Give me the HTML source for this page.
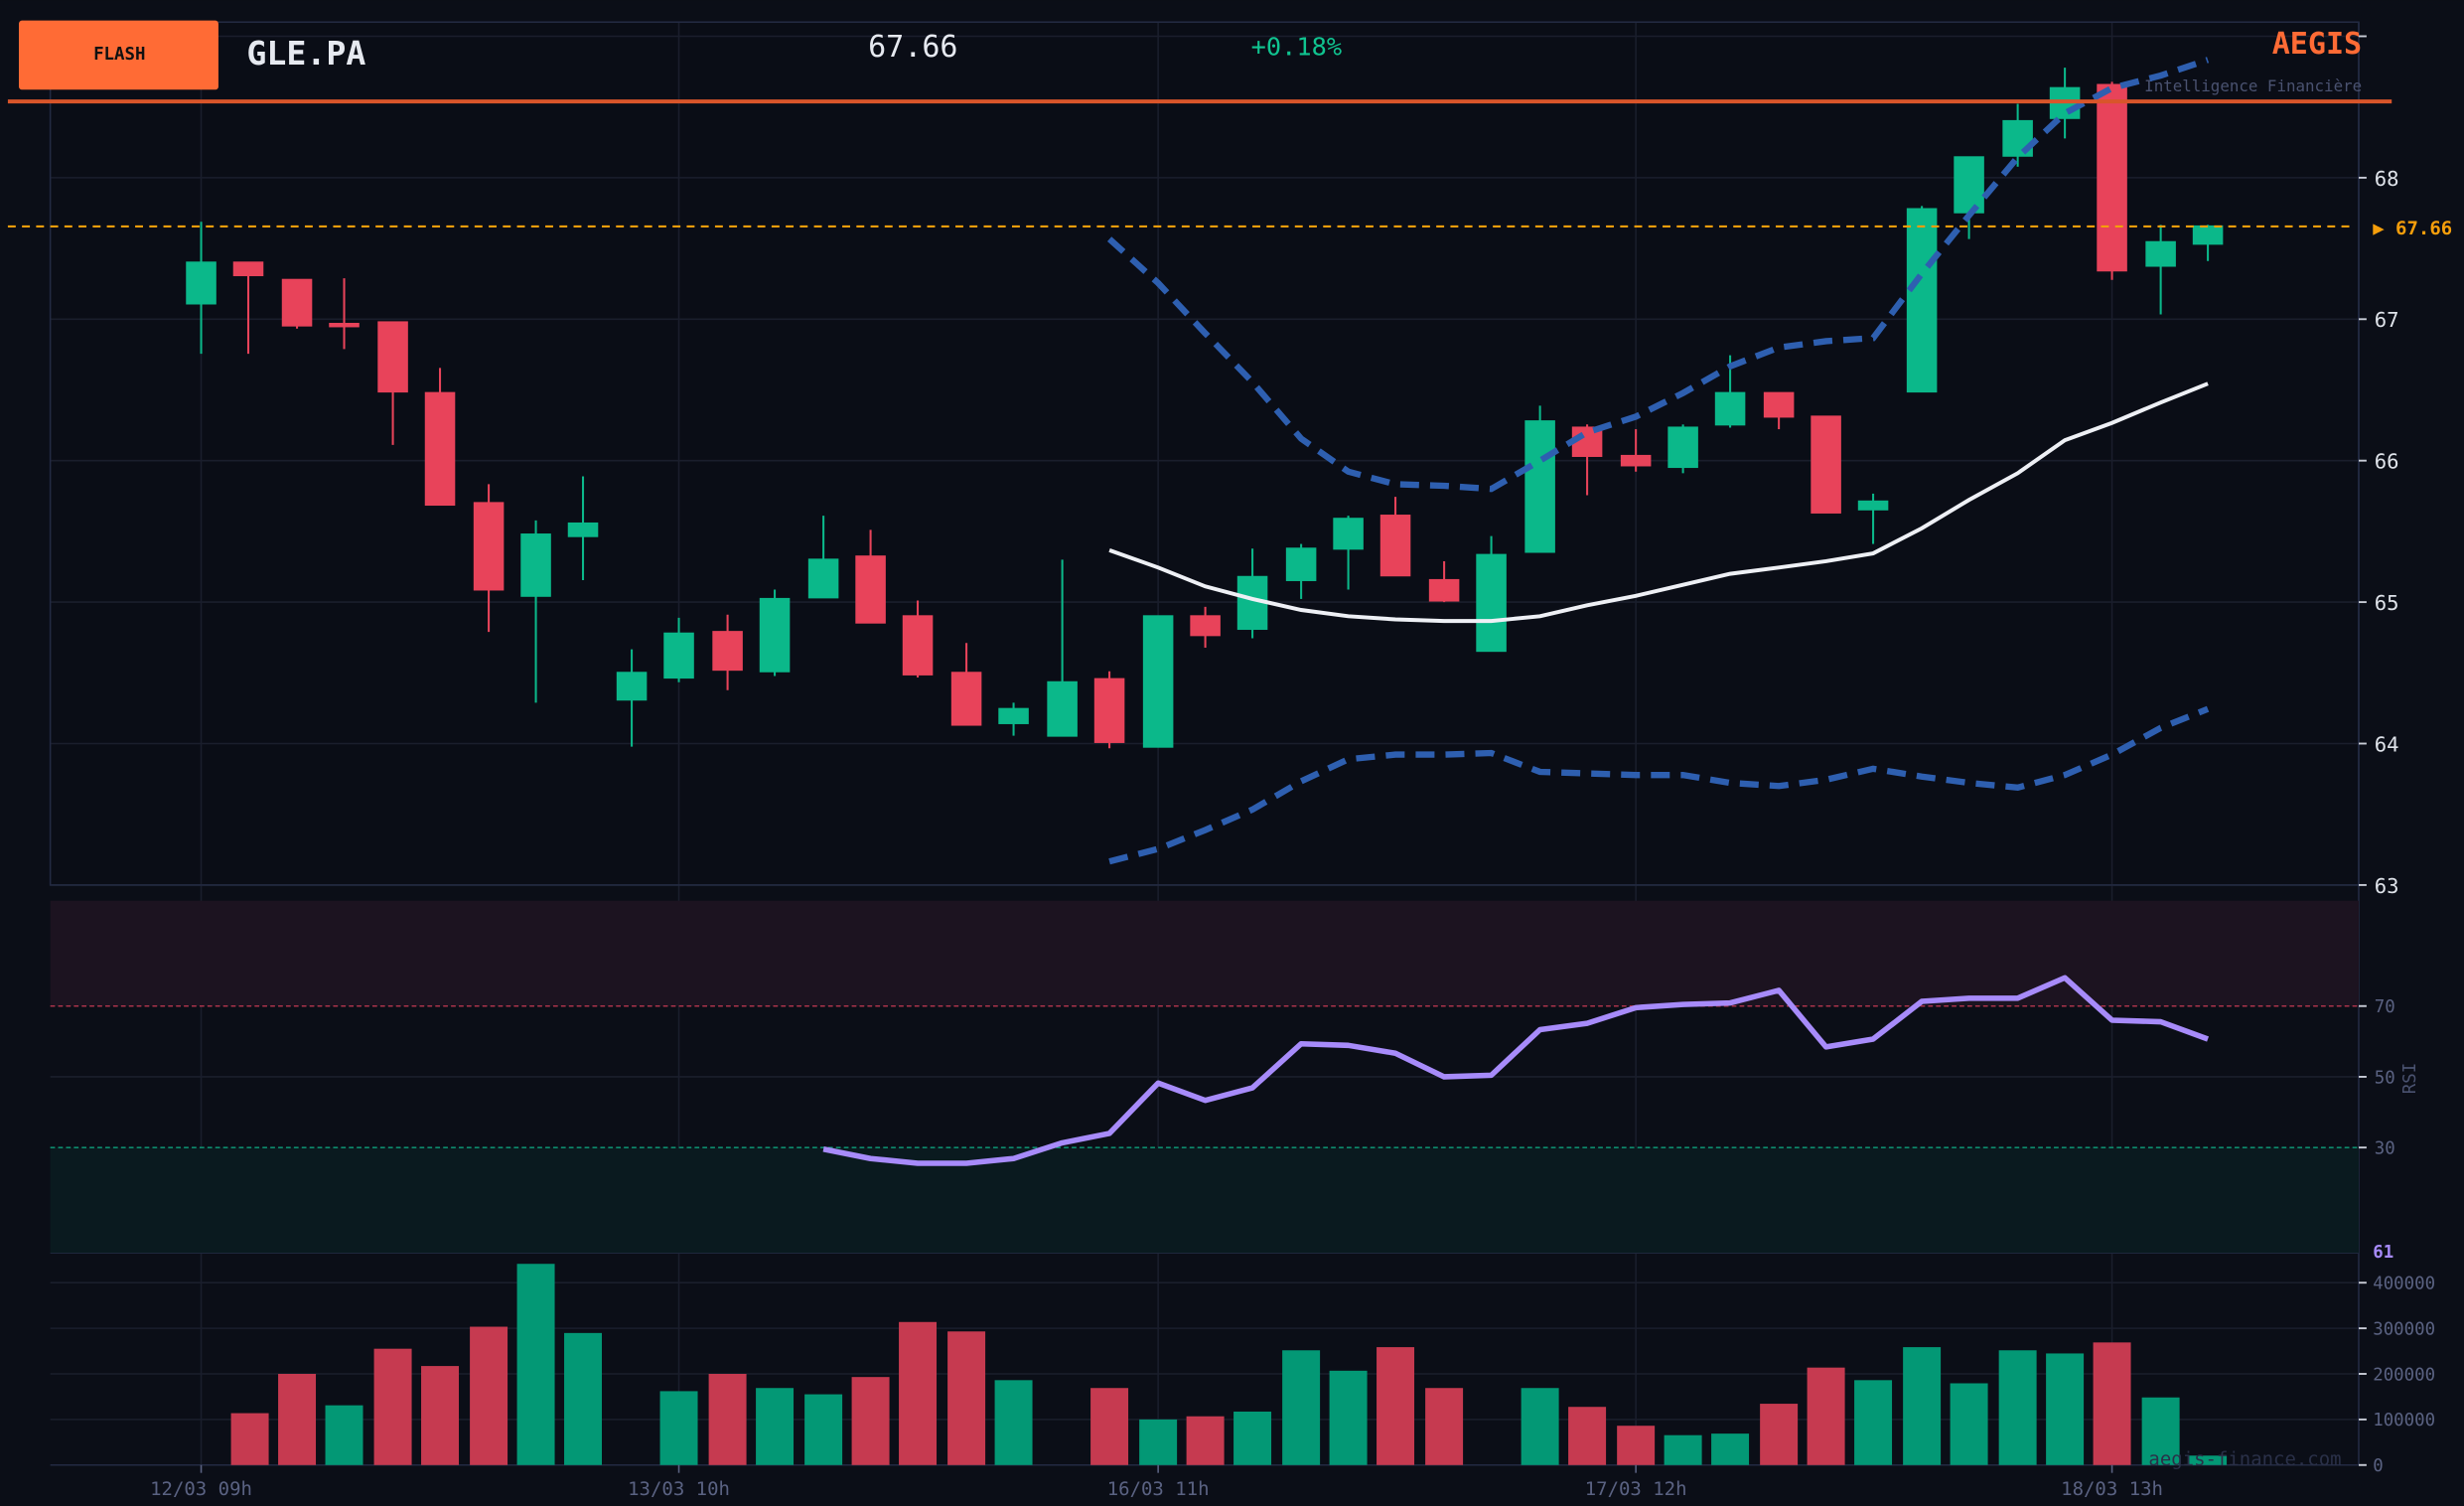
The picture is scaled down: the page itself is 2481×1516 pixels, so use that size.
<!DOCTYPE html>
<html><head><meta charset="utf-8"><style>
html,body{margin:0;padding:0;background:#0b0e17;}
svg{display:block;}
text{font-family:"DejaVu Sans Mono","Liberation Mono",monospace;}
</style></head><body>
<svg width="2481" height="1516" viewBox="0 0 1568 958" xmlns="http://www.w3.org/2000/svg">
<rect width="1568" height="958" fill="#0b0e17"/>
<rect x="32" y="14" width="1469" height="549" fill="#0a0d16"/>
<g stroke="#1a1e2c" stroke-width="1">
<line x1="32" y1="23" x2="1501" y2="23"/>
<line x1="32" y1="113" x2="1501" y2="113"/><line x1="32" y1="203" x2="1501" y2="203"/>
<line x1="32" y1="293" x2="1501" y2="293"/><line x1="32" y1="383" x2="1501" y2="383"/>
<line x1="32" y1="473" x2="1501" y2="473"/><line x1="32" y1="563" x2="1501" y2="563"/>
<line x1="128" y1="14" x2="128" y2="932"/><line x1="432" y1="14" x2="432" y2="932"/>
<line x1="737" y1="14" x2="737" y2="932"/><line x1="1041" y1="14" x2="1041" y2="932"/>
<line x1="1344" y1="14" x2="1344" y2="932"/>
<line x1="32" y1="685" x2="1501" y2="685"/>
<line x1="32" y1="816" x2="1501" y2="816"/><line x1="32" y1="845" x2="1501" y2="845"/>
<line x1="32" y1="874" x2="1501" y2="874"/><line x1="32" y1="903" x2="1501" y2="903"/>
</g>
<g stroke="#232a42" fill="none"><rect x="32" y="14" width="1469" height="549"/>
<line x1="1501" y1="14" x2="1501" y2="932"/><line x1="32" y1="932" x2="1501" y2="932"/><line x1="32" y1="797" x2="1501" y2="797"/></g>
<rect x="32" y="573" width="1469" height="67" fill="#1c1320"/>
<rect x="32" y="730" width="1469" height="67" fill="#0a1a1f"/>
<line x1="32" y1="640" x2="1501" y2="640" stroke="#a8334a" stroke-dasharray="3,2"/>
<line x1="32" y1="730" x2="1501" y2="730" stroke="#0e8a6c" stroke-dasharray="3,2"/>
<rect x="12" y="13" width="127" height="44" rx="2" fill="#ff6b35"/>
<text x="76" y="38" font-size="11" font-weight="bold" fill="#111" text-anchor="middle">FLASH</text>
<text x="157" y="41" font-size="21" font-weight="bold" fill="#e6e9f0">GLE.PA</text>
<text x="581" y="36" font-size="19" fill="#e6e9f0" text-anchor="middle">67.66</text>
<text x="825" y="35" font-size="16" fill="#10c490" text-anchor="middle">+0.18%</text>
<text x="1503" y="34" font-size="19" font-weight="bold" fill="#ff6b35" text-anchor="end">AEGIS</text>
<text x="1503" y="58" font-size="10" fill="#4a5270" text-anchor="end">Intelligence Financière</text>
<g stroke-width="1.3">
<g stroke="#0bb88a" fill="#0bb88a">
<line x1="128" y1="141" x2="128" y2="225"/><rect x="119" y="167" width="18" height="26"/>
<line x1="341" y1="331" x2="341" y2="447"/><rect x="332" y="340" width="18" height="39"/>
<line x1="371" y1="303" x2="371" y2="369"/><rect x="362" y="333" width="18" height="8"/>
<line x1="402" y1="413" x2="402" y2="475"/><rect x="393" y="428" width="18" height="17"/>
<line x1="432" y1="393" x2="432" y2="434"/><rect x="423" y="403" width="18" height="28"/>
<line x1="493" y1="375" x2="493" y2="430"/><rect x="484" y="381" width="18" height="46"/>
<line x1="524" y1="328" x2="524" y2="380"/><rect x="515" y="356" width="18" height="24"/>
<line x1="645" y1="447" x2="645" y2="468"/><rect x="636" y="451" width="18" height="9"/>
<line x1="676" y1="356" x2="676" y2="468"/><rect x="667" y="434" width="18" height="34"/>
<line x1="737" y1="392" x2="737" y2="475"/><rect x="728" y="392" width="18" height="83"/>
<line x1="797" y1="349" x2="797" y2="406"/><rect x="788" y="367" width="18" height="33"/>
<line x1="828" y1="346" x2="828" y2="381"/><rect x="819" y="349" width="18" height="20"/>
<line x1="858" y1="328" x2="858" y2="375"/><rect x="849" y="330" width="18" height="19"/>
<line x1="949" y1="341" x2="949" y2="414"/><rect x="940" y="353" width="18" height="61"/>
<line x1="980" y1="258" x2="980" y2="351"/><rect x="971" y="268" width="18" height="83"/>
<line x1="1071" y1="270" x2="1071" y2="301"/><rect x="1062" y="272" width="18" height="25"/>
<line x1="1101" y1="226" x2="1101" y2="272"/><rect x="1092" y="250" width="18" height="20"/>
<line x1="1192" y1="314" x2="1192" y2="346"/><rect x="1183" y="319" width="18" height="5"/>
<line x1="1223" y1="131" x2="1223" y2="249"/><rect x="1214" y="133" width="18" height="116"/>
<line x1="1253" y1="100" x2="1253" y2="152"/><rect x="1244" y="100" width="18" height="35"/>
<line x1="1284" y1="66" x2="1284" y2="106"/><rect x="1275" y="77" width="18" height="22"/>
<line x1="1314" y1="43" x2="1314" y2="88"/><rect x="1305" y="56" width="18" height="19"/>
<line x1="1375" y1="143" x2="1375" y2="200"/><rect x="1366" y="154" width="18" height="15"/>
<line x1="1405" y1="143" x2="1405" y2="166"/><rect x="1396" y="144" width="18" height="11"/>
</g>
<g stroke="#e8435a" fill="#e8435a">
<line x1="158" y1="167" x2="158" y2="225"/><rect x="149" y="167" width="18" height="8"/>
<line x1="189" y1="178" x2="189" y2="209"/><rect x="180" y="178" width="18" height="29"/>
<line x1="219" y1="177" x2="219" y2="222"/><rect x="210" y="206" width="18" height="1.5"/>
<line x1="250" y1="205" x2="250" y2="283"/><rect x="241" y="205" width="18" height="44"/>
<line x1="280" y1="234" x2="280" y2="321"/><rect x="271" y="250" width="18" height="71"/>
<line x1="311" y1="308" x2="311" y2="402"/><rect x="302" y="320" width="18" height="55"/>
<line x1="463" y1="391" x2="463" y2="439"/><rect x="454" y="402" width="18" height="24"/>
<line x1="554" y1="337" x2="554" y2="396"/><rect x="545" y="354" width="18" height="42"/>
<line x1="584" y1="382" x2="584" y2="431"/><rect x="575" y="392" width="18" height="37"/>
<line x1="615" y1="409" x2="615" y2="461"/><rect x="606" y="428" width="18" height="33"/>
<line x1="706" y1="427" x2="706" y2="476"/><rect x="697" y="432" width="18" height="40"/>
<line x1="767" y1="386" x2="767" y2="412"/><rect x="758" y="392" width="18" height="12"/>
<line x1="888" y1="316" x2="888" y2="366"/><rect x="879" y="328" width="18" height="38"/>
<line x1="919" y1="357" x2="919" y2="383"/><rect x="910" y="369" width="18" height="13"/>
<line x1="1010" y1="270" x2="1010" y2="315"/><rect x="1001" y="272" width="18" height="18"/>
<line x1="1041" y1="273" x2="1041" y2="300"/><rect x="1032" y="290" width="18" height="6"/>
<line x1="1132" y1="250" x2="1132" y2="273"/><rect x="1123" y="250" width="18" height="15"/>
<line x1="1162" y1="265" x2="1162" y2="326"/><rect x="1153" y="265" width="18" height="61"/>
<line x1="1344" y1="52" x2="1344" y2="178"/><rect x="1335" y="54" width="18" height="118"/>
</g>
</g>
<polyline fill="none" stroke="#2e5fb0" stroke-width="4" stroke-dasharray="12,7" points="706,152 737,180 767,212 797,243 828,279 858,300 888,308 919,309 949,311 980,293 1010,275 1041,265 1071,250 1101,233 1132,221 1162,217 1192,215 1223,174 1253,137 1284,100 1314,72 1344,56 1375,48 1405,38"/>
<polyline fill="none" stroke="#2e5fb0" stroke-width="4" stroke-dasharray="12,7" points="706,548 737,540 767,528 797,515 828,497 858,483 888,480 919,480 949,479 980,491 1010,492 1041,493 1071,493 1101,498 1132,500 1162,496 1192,489 1223,494 1253,498 1284,501 1314,493 1344,480 1375,463 1405,451"/>
<polyline fill="none" stroke="#eef0f5" stroke-width="2.5" points="706,350 737,361 767,373 797,381 828,388 858,392 888,394 919,395 949,395 980,392 1010,385 1041,379 1071,372 1101,365 1132,361 1162,357 1192,352 1223,336 1253,318 1284,301 1314,280 1344,269 1375,256 1405,244"/>
<line x1="5" y1="64.5" x2="1522" y2="64.5" stroke="#d9552a" stroke-width="2.5"/>
<line x1="5" y1="144" x2="1496" y2="144" stroke="#f59e0b" stroke-width="1.3" stroke-dasharray="5,4"/>
<text x="1510" y="149" font-size="12" font-weight="bold" fill="#f59e0b">▶ 67.66</text>
<g fill="#dfe3ea" font-size="13"><text x="1511" y="118">68</text><text x="1511" y="208">67</text><text x="1511" y="298">66</text><text x="1511" y="388">65</text><text x="1511" y="478">64</text><text x="1511" y="568">63</text></g>
<g stroke="#c8ccd6" stroke-width="1.2"><line x1="1501" y1="23" x2="1506" y2="23"/><line x1="1501" y1="113" x2="1506" y2="113"/><line x1="1501" y1="203" x2="1506" y2="203"/><line x1="1501" y1="293" x2="1506" y2="293"/><line x1="1501" y1="383" x2="1506" y2="383"/><line x1="1501" y1="473" x2="1506" y2="473"/><line x1="1501" y1="563" x2="1506" y2="563"/>
<line x1="1501" y1="640" x2="1506" y2="640"/><line x1="1501" y1="685" x2="1506" y2="685"/><line x1="1501" y1="730" x2="1506" y2="730"/>
<line x1="1501" y1="816" x2="1506" y2="816"/><line x1="1501" y1="845" x2="1506" y2="845"/><line x1="1501" y1="874" x2="1506" y2="874"/><line x1="1501" y1="903" x2="1506" y2="903"/><line x1="1501" y1="932" x2="1506" y2="932"/></g>
<polyline fill="none" stroke="#a78bfa" stroke-width="3.5" stroke-linejoin="round" points="524,731 554,737 584,740 615,740 645,737 676,727 706,721 737,689 767,700 797,692 828,664 858,665 888,670 919,685 949,684 980,655 1010,651 1041,641 1071,639 1101,638 1132,630 1162,666 1192,661 1223,637 1253,635 1284,635 1314,622 1344,649 1375,650 1405,661"/>
<g fill="#5a6282" font-size="11"><text x="1511" y="644">70</text><text x="1511" y="689">50</text><text x="1511" y="734">30</text></g>
<text x="1537" y="686" font-size="11" fill="#4a5270" text-anchor="middle" transform="rotate(-90 1537 686)">RSI</text>
<text x="1510" y="800" font-size="11" font-weight="bold" fill="#a78bfa">61</text>
<g fill="#c63a50">
<rect x="147" y="899" width="24" height="33"/><rect x="177" y="874" width="24" height="58"/><rect x="238" y="858" width="24" height="74"/><rect x="268" y="869" width="24" height="63"/><rect x="299" y="844" width="24" height="88"/>
<rect x="451" y="874" width="24" height="58"/><rect x="542" y="876" width="24" height="56"/><rect x="572" y="841" width="24" height="91"/><rect x="603" y="847" width="24" height="85"/>
<rect x="694" y="883" width="24" height="49"/><rect x="755" y="901" width="24" height="31"/><rect x="876" y="857" width="24" height="75"/><rect x="907" y="883" width="24" height="49"/>
<rect x="998" y="895" width="24" height="37"/><rect x="1029" y="907" width="24" height="25"/><rect x="1120" y="893" width="24" height="39"/><rect x="1150" y="870" width="24" height="62"/><rect x="1332" y="854" width="24" height="78"/>
</g>
<g fill="#039875">
<rect x="207" y="894" width="24" height="38"/><rect x="329" y="804" width="24" height="128"/><rect x="359" y="848" width="24" height="84"/><rect x="420" y="885" width="24" height="47"/>
<rect x="481" y="883" width="24" height="49"/><rect x="512" y="887" width="24" height="45"/><rect x="633" y="878" width="24" height="54"/><rect x="725" y="903" width="24" height="29"/>
<rect x="785" y="898" width="24" height="34"/><rect x="816" y="859" width="24" height="73"/><rect x="846" y="872" width="24" height="60"/><rect x="968" y="883" width="24" height="49"/>
<rect x="1059" y="913" width="24" height="19"/><rect x="1089" y="912" width="24" height="20"/><rect x="1180" y="878" width="24" height="54"/><rect x="1211" y="857" width="24" height="75"/>
<rect x="1241" y="880" width="24" height="52"/><rect x="1272" y="859" width="24" height="73"/><rect x="1302" y="861" width="24" height="71"/><rect x="1363" y="889" width="24" height="43"/><rect x="1393" y="926" width="24" height="6"/>
</g>
<text x="1490" y="932" font-size="12" fill="#2a3048" text-anchor="end">aegis-finance.com</text>
<g fill="#5a6282" font-size="11"><text x="1510" y="820">400000</text><text x="1510" y="849">300000</text><text x="1510" y="878">200000</text><text x="1510" y="907">100000</text><text x="1510" y="936">0</text></g>
<g stroke="#5a6282"><line x1="128" y1="932" x2="128" y2="937"/><line x1="432" y1="932" x2="432" y2="937"/><line x1="737" y1="932" x2="737" y2="937"/><line x1="1041" y1="932" x2="1041" y2="937"/><line x1="1344" y1="932" x2="1344" y2="937"/></g>
<g fill="#5a6282" font-size="12" text-anchor="middle"><text x="128" y="951">12/03 09h</text><text x="432" y="951">13/03 10h</text><text x="737" y="951">16/03 11h</text><text x="1041" y="951">17/03 12h</text><text x="1344" y="951">18/03 13h</text></g>
</svg>
</body></html>
